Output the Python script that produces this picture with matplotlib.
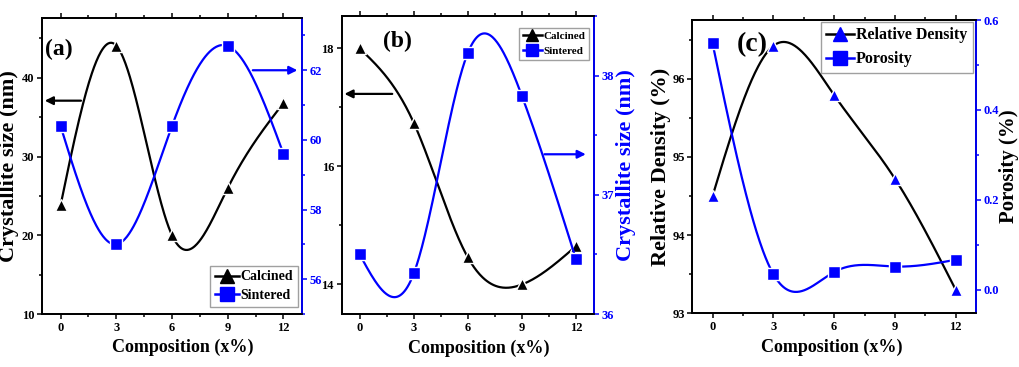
import numpy as np
import matplotlib.pyplot as plt
from matplotlib.lines import Line2D
from matplotlib.ticker import MultipleLocator

plt.rcParams['font.family'] = ['Liberation Serif', 'DejaVu Serif']
plt.rcParams['font.weight'] = 'bold'

# composition (x%)
comp = [0, 3, 6, 9, 12]

# (a) crystallite size (nm)
a_calcined = [23.8, 44.1, 20.0, 26.0, 36.8]
a_sintered = [60.4, 57.0, 60.4, 62.7, 59.6]

# (b) crystallite size (nm)
b_calcined = [18.0, 16.74, 14.46, 14.0, 14.65]
b_sintered = [36.5, 36.34, 38.19, 37.83, 36.46]

# (c) relative density / porosity (%)
c_density = [94.5, 96.42, 95.79, 94.72, 93.3]
c_porosity = [0.548, 0.035, 0.04, 0.052, 0.067]

BLUE = '#0000ff'
TICK_FS = 9


def natural_spline(x, y, n=300):
    """Natural cubic spline through (x, y)."""
    x = np.asarray(x, float)
    y = np.asarray(y, float)
    k = len(x)
    h = np.diff(x)
    A = np.zeros((k, k))
    r = np.zeros(k)
    A[0, 0] = A[-1, -1] = 1.0
    for i in range(1, k - 1):
        A[i, i - 1] = h[i - 1]
        A[i, i] = 2 * (h[i - 1] + h[i])
        A[i, i + 1] = h[i]
        r[i] = 6 * ((y[i + 1] - y[i]) / h[i] - (y[i] - y[i - 1]) / h[i - 1])
    M = np.linalg.solve(A, r)
    xs = np.linspace(x[0], x[-1], n)
    idx = np.clip(np.searchsorted(x, xs) - 1, 0, k - 2)
    x0, x1 = x[idx], x[idx + 1]
    hh = x1 - x0
    ys = (M[idx] * (x1 - xs) ** 3 / (6 * hh) + M[idx + 1] * (xs - x0) ** 3 / (6 * hh)
          + (y[idx] / hh - M[idx] * hh / 6) * (x1 - xs)
          + (y[idx + 1] / hh - M[idx + 1] * hh / 6) * (xs - x0))
    return xs, ys


def draw_series(ax, y, line_color, marker, marker_color):
    xs, ys = natural_spline(comp, y)
    ax.plot(xs, ys, color=line_color, lw=1.6, zorder=2)
    ax.plot(comp, y, ls='none', marker=marker, ms=8, color=marker_color,
            mec='white', mew=1.0, zorder=3)


def style_axes(ax, ax2, xlabel_x=0.5):
    ax.set_xlim(-1, 13)
    ax.xaxis.set_major_locator(MultipleLocator(3))
    ax.xaxis.set_minor_locator(MultipleLocator(1.5))
    for a in (ax, ax2):
        for s in a.spines.values():
            s.set_linewidth(1.3)
    ax2.spines['right'].set_color(BLUE)
    ax.tick_params(axis='both', which='both', direction='out', labelsize=TICK_FS,
                   width=1.1, pad=2)
    ax.tick_params(which='major', length=3.5)
    ax.tick_params(which='minor', length=2.2)
    ax.tick_params(axis='x', top=True, which='both')
    ax2.tick_params(axis='y', which='both', direction='out', colors=BLUE,
                    labelsize=TICK_FS, width=1.1, pad=2)
    ax2.tick_params(which='major', length=3.5)
    ax2.tick_params(which='minor', length=2.2)
    ax.set_xlabel('Composition (x%)', fontsize=13, fontweight='bold')
    ax.xaxis.set_label_coords(xlabel_x, -0.085)


def make_legend(ax, labels, line_colors, markers, marker_colors, loc, fs, ms,
                anchor, spacing):
    handles = [Line2D([], [], color=lc, lw=1.8, marker=m, ms=ms, mfc=mc, mec=mc)
               for lc, m, mc in zip(line_colors, markers, marker_colors)]
    leg = ax.legend(handles, labels, loc=loc, fontsize=fs, fancybox=False,
                    edgecolor='#a0a0a0', framealpha=1, handlelength=1.7,
                    handletextpad=0.15, borderpad=0.35, labelspacing=spacing,
                    bbox_to_anchor=anchor, borderaxespad=0)
    leg.get_frame().set_linewidth(1.0)
    for t in leg.get_texts():
        t.set_fontweight('bold')
    return leg


fig = plt.figure(figsize=(10.19, 3.67), dpi=100)

# ---- (a) ----
ax = fig.add_axes([0.0412, 0.1444, 0.2552, 0.8065])
ax2 = ax.twinx()
draw_series(ax, a_calcined, 'black', '^', 'black')
draw_series(ax2, a_sintered, BLUE, 's', BLUE)
ax.set_ylim(10, 47.6)
ax2.set_ylim(55, 63.5)
ax.yaxis.set_major_locator(MultipleLocator(10))
ax.yaxis.set_minor_locator(MultipleLocator(5))
ax2.yaxis.set_major_locator(MultipleLocator(2))
ax2.yaxis.set_minor_locator(MultipleLocator(1))
style_axes(ax, ax2, 0.54)
ax.set_ylabel('Crystallite size (nm)', fontsize=16, fontweight='bold', labelpad=2)
ax.text(0.01, 0.93, '(a)', transform=ax.transAxes, fontsize=17, fontweight='bold',
        va='top', ha='left')
ax.annotate('', xy=(-1, 37.1), xytext=(1.25, 37.1),
            arrowprops=dict(arrowstyle='-|>', color='black', lw=1.6, mutation_scale=12))
ax2.annotate('', xy=(12.9, 62.0), xytext=(10.2, 62.0),
             arrowprops=dict(arrowstyle='-|>', color=BLUE, lw=1.6, mutation_scale=12))
make_legend(ax2, ['Calcined', 'Sintered'], ['black', BLUE], ['^', 's'],
            ['black', BLUE], 'lower right', 10, 10, (0.985, 0.024), 0.4)

# ---- (b) ----
bx = fig.add_axes([0.3353, 0.1444, 0.2476, 0.812])
bx2 = bx.twinx()
draw_series(bx, b_calcined, 'black', '^', 'black')
draw_series(bx2, b_sintered, BLUE, 's', BLUE)
bx.set_ylim(13.5, 18.55)
bx2.set_ylim(36, 38.5)
bx.yaxis.set_major_locator(MultipleLocator(2))
bx.yaxis.set_minor_locator(MultipleLocator(1))
bx2.yaxis.set_major_locator(MultipleLocator(1))
bx2.yaxis.set_minor_locator(MultipleLocator(0.5))
style_axes(bx, bx2, 0.545)
bx2.set_ylabel('Crystallite size (nm)', fontsize=16, fontweight='bold', color=BLUE,
               labelpad=1)
bx.text(0.164, 0.95, '(b)', transform=bx.transAxes, fontsize=17, fontweight='bold',
        va='top', ha='left')
bx.annotate('', xy=(-1, 17.23), xytext=(1.96, 17.23),
            arrowprops=dict(arrowstyle='-|>', color='black', lw=1.6, mutation_scale=12))
bx2.annotate('', xy=(12.7, 37.34), xytext=(10.1, 37.34),
             arrowprops=dict(arrowstyle='-|>', color=BLUE, lw=1.6, mutation_scale=12))
make_legend(bx2, ['Calcined', 'Sintered'], ['black', BLUE], ['^', 's'],
            ['black', BLUE], 'upper right', 8, 8.5, (0.981, 0.961), 0.45)

# ---- (c) ----
cx = fig.add_axes([0.6794, 0.1463, 0.2784, 0.7992])
cx2 = cx.twinx()
draw_series(cx, c_density, 'black', '^', BLUE)
draw_series(cx2, c_porosity, BLUE, 's', BLUE)
cx.set_ylim(93, 96.75)
cx2.set_ylim(-0.052, 0.6)
cx.yaxis.set_major_locator(MultipleLocator(1))
cx.yaxis.set_minor_locator(MultipleLocator(0.5))
cx2.yaxis.set_major_locator(MultipleLocator(0.2))
cx2.yaxis.set_minor_locator(MultipleLocator(0.1))
style_axes(cx, cx2, 0.49)
cx2.yaxis.set_major_formatter(plt.FormatStrFormatter('%.1f'))
cx.set_ylabel('Relative Density (%)', fontsize=16, fontweight='bold', labelpad=1)
cx2.set_ylabel('Porosity (%)', fontsize=15, fontweight='bold', labelpad=0)
cx.text(0.158, 0.96, '(c)', transform=cx.transAxes, fontsize=20, fontweight='bold',
        va='top', ha='left')
make_legend(cx2, ['Relative Density', 'Porosity'], ['black', BLUE], ['^', 's'],
            [BLUE, BLUE], 'upper right', 11.5, 10, (0.989, 0.994), 0.5)

fig.savefig('out.png', dpi=100)
